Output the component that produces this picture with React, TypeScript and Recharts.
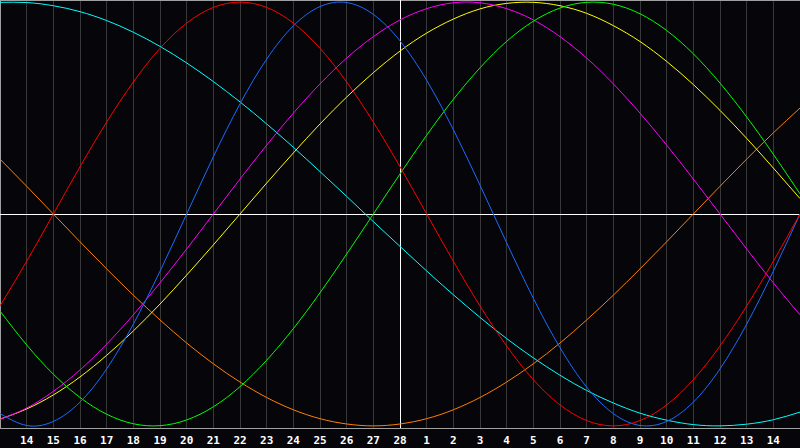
import React from "react";
import {
  CartesianGrid,
  Line,
  LineChart,
  ReferenceLine,
  XAxis,
  YAxis,
} from "recharts";

// day labels for each plotted position (13th .. 15th of next month)
const days = [
  "13", "14", "15", "16", "17", "18", "19", "20", "21", "22", "23", "24", "25", "26", "27", "28",
  "1", "2", "3", "4", "5", "6", "7", "8", "9", "10", "11", "12", "13", "14", "15",
];
const tickIdx = [1, 2, 3, 4, 5, 6, 7, 8, 9, 10, 11, 12, 13, 14, 15, 16, 17, 18, 19, 20, 21, 22, 23, 24, 25, 26, 27, 28, 29];
const todayIdx = 15;

const physical = [-94.2, -99.8, -97.9, -88.8, -73.1, -52.0, -27.0, 0, 27.0, 52.0, 73.1, 88.8, 97.9, 99.8, 94.2, 81.7, 63.1, 39.8, 13.6, -13.6, -39.8, -63.1, -81.7, -94.2, -99.8, -97.9, -88.8, -73.1, -52.0, -27.0, 0];
const emotional = [-43.4, -22.3, 0, 22.3, 43.4, 62.3, 78.2, 90.1, 97.5, 100, 97.5, 90.1, 78.2, 62.3, 43.4, 22.3, 0, -22.3, -43.4, -62.3, -78.2, -90.1, -97.5, -100, -97.5, -90.1, -78.2, -62.3, -43.4, -22.3, 0];
const intellectual = [-45.8, -61.8, -75.6, -86.6, -94.5, -99.0, -99.9, -97.2, -91.0, -81.5, -69.0, -54.1, -37.2, -18.9, 0, 18.9, 37.2, 54.1, 69.0, 81.5, 91.0, 97.2, 99.9, 99.0, 94.5, 86.6, 75.6, 61.8, 45.8, 28.2, 9.5];
const intuitive = [-96.9, -91.6, -83.7, -73.6, -61.4, -47.6, -32.5, -16.5, 0, 16.5, 32.5, 47.6, 61.4, 73.6, 83.7, 91.6, 96.9, 99.7, 99.7, 96.9, 91.6, 83.7, 73.6, 61.4, 47.6, 32.5, 16.5, 0, -16.5, -32.5, -47.6];
const aesthetic = [-96.8, -92.0, -85.4, -76.9, -66.7, -55.2, -42.5, -28.8, -14.6, 0, 14.6, 28.8, 42.5, 55.2, 66.7, 76.9, 85.4, 92.0, 96.8, 99.4, 99.9, 98.3, 94.7, 88.9, 81.4, 72.0, 61.1, 48.9, 35.7, 21.7, 7.3];
const awareness = [25.9, 13.1, 0, -13.1, -25.9, -38.3, -50, -60.9, -70.7, -79.3, -86.6, -92.4, -96.6, -99.1, -100, -99.1, -96.6, -92.4, -86.6, -79.3, -70.7, -60.9, -50, -38.3, -25.9, -13.1, 0, 13.1, 25.9, 38.3, 50];
const spiritual = [99.9, 99.8, 98.3, 95.5, 91.3, 85.8, 79.1, 71.3, 62.5, 52.9, 42.5, 31.5, 20.0, 8.3, -3.6, -15.3, -26.9, -38.1, -48.8, -58.8, -67.9, -76.1, -83.3, -89.2, -94.0, -97.3, -99.4, -100, -99.2, -97.1, -93.5];

const data = days.map((d, i) => ({
  idx: i,
  physical: physical[i],
  emotional: emotional[i],
  intellectual: intellectual[i],
  intuitive: intuitive[i],
  aesthetic: aesthetic[i],
  awareness: awareness[i],
  spiritual: spiritual[i],
}));

const series = [
  { key: "spiritual", color: "#00ffff" },
  { key: "awareness", color: "#ff8000" },
  { key: "aesthetic", color: "#ffff00" },
  { key: "intuitive", color: "#ff00ff" },
  { key: "intellectual", color: "#00ff00" },
  { key: "physical", color: "#1a6cff" },
  { key: "emotional", color: "#ff0000" },
];

export default function App() {
  return (
    <div
      style={{
        position: "absolute",
        left: 0,
        top: 0,
        width: 800,
        height: 448,
        background: "#06050a",
      }}
    >
      <LineChart
        width={800}
        height={448}
        data={data}
        margin={{ top: 0, right: 0, bottom: 0, left: 0 }}
      >
        <CartesianGrid horizontal={false} stroke="#383838" shapeRendering="crispEdges" />
        <XAxis
          dataKey="idx"
          type="number"
          domain={[0, 30]}
          ticks={tickIdx}
          tickFormatter={(v: number) => days[v]}
          interval={0}
          height={20}
          tickLine={false}
          axisLine={{ stroke: "#a0a0a0", shapeRendering: "crispEdges" }}
          tick={{ fill: "#ffffff", fontSize: 11, fontWeight: "bold", fontFamily: "DejaVu Sans Mono" }}
        />
        <YAxis hide domain={[-101, 101]} />
        <ReferenceLine x={0} stroke="#a0a0a0" ifOverflow="visible" shapeRendering="crispEdges" />
        <ReferenceLine y={101} stroke="#a0a0a0" ifOverflow="visible" shapeRendering="crispEdges" />
        <ReferenceLine x={todayIdx} stroke="#ffffff" shapeRendering="crispEdges" />
        <ReferenceLine y={0} stroke="#ffffff" shapeRendering="crispEdges" />
        {series.map((s) => (
          <Line
            key={s.key}
            type="natural"
            dataKey={s.key}
            stroke={s.color}
            strokeWidth={1}
            dot={false}
            activeDot={false}
            isAnimationActive={false}
          />
        ))}
      </LineChart>
    </div>
  );
}
